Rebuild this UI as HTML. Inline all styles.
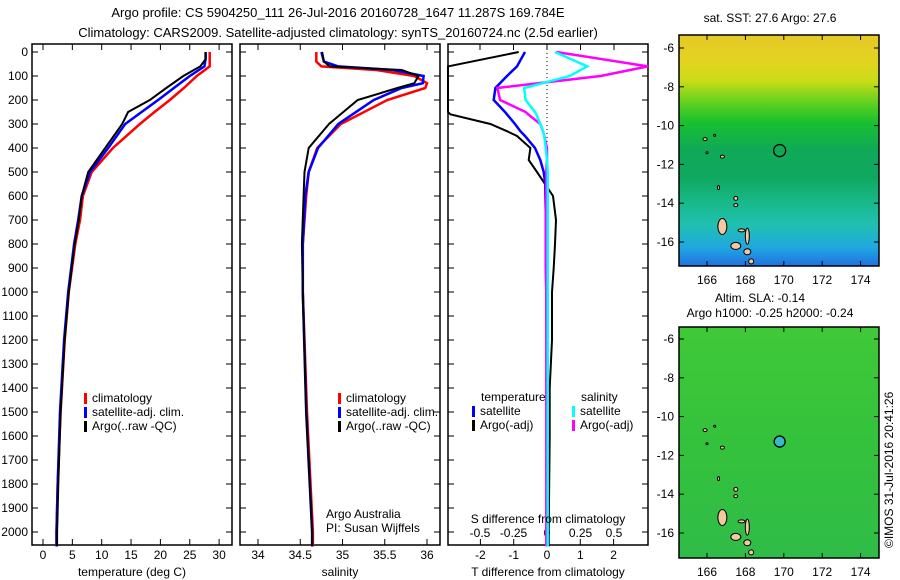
<!DOCTYPE html>
<html><head><meta charset="utf-8">
<style>
body{margin:0;background:#fff;}
svg{display:block;font-family:"Liberation Sans",sans-serif;}
</style></head>
<body>
<svg id="c" width="900" height="580" viewBox="0 0 900 580" xmlns="http://www.w3.org/2000/svg">
<defs>
<linearGradient id="sstg" x1="0" y1="0" x2="0" y2="1">
<stop offset="0" stop-color="#e6c828"/><stop offset="0.12" stop-color="#e2d420"/><stop offset="0.2" stop-color="#c8dc18"/>
<stop offset="0.3" stop-color="#5ad020"/><stop offset="0.38" stop-color="#18c030"/><stop offset="0.5" stop-color="#10a858"/>
<stop offset="0.62" stop-color="#10a860"/><stop offset="0.72" stop-color="#18b888"/><stop offset="0.82" stop-color="#20c0b0"/>
<stop offset="0.92" stop-color="#20a8e0"/><stop offset="1" stop-color="#2070e0"/>
</linearGradient>
<linearGradient id="slag" x1="0" y1="0" x2="0" y2="1">
<stop offset="0" stop-color="#40c838"/><stop offset="0.5" stop-color="#34c23c"/><stop offset="1" stop-color="#30bc48"/>
</linearGradient>
</defs>
<g font-size="13">
<text x="338" y="17" text-anchor="middle">Argo profile: CS 5904250_111 26-Jul-2016 20160728_1647 11.287S 169.784E</text>
<text x="338" y="37" text-anchor="middle">Climatology: CARS2009. Satellite-adjusted climatology: synTS_20160724.nc (2.5d earlier)</text>
</g>
<g id="plots"></g>
</svg>
<script>
// ---- data ----
const tDepth   = [0,30,60,100,150,200,250,300,400,500,600,700,800,1000,1200,1500,1800,2000,2060];
const tClim    = [28.4,28.4,28.4,26.2,24.0,21.6,19.0,16.5,11.9,8.3,6.8,6.3,5.5,4.4,3.7,3.0,2.5,2.3,2.3];
const tSat     = [27.7,27.7,27.5,25.0,22.3,19.6,16.8,14.0,11.1,8.0,6.6,6.0,5.3,4.3,3.6,2.9,2.5,2.3,2.3];
const tArgo    = [27.7,27.7,26.8,23.9,21.0,18.2,14.5,13.5,10.6,7.7,6.6,6.1,5.4,4.4,3.7,3.0,2.6,2.4,2.4];
const sDepth   = [0,40,60,75,100,130,150,200,300,400,500,600,800,1000,1500,2000,2060];
const sClim    = [34.69,34.69,34.75,35.4,35.85,36.0,35.98,35.53,34.98,34.7,34.6,34.57,34.53,34.53,34.58,34.65,34.65];
const sSat     = [34.75,34.78,34.95,35.6,35.96,35.95,35.7,35.37,34.95,34.71,34.6,34.56,34.53,34.53,34.57,34.64,34.64];
const sArgo    = [34.76,34.78,34.85,35.7,35.9,35.85,35.65,35.18,34.84,34.6,34.55,34.54,34.52,34.53,34.57,34.64,34.64];
const dDepth   = [0,60,100,150,200,250,260,300,330,350,400,450,500,550,600,700,800,900,1000,1200,1400,1600,2000,2060];
const dTSat    = [-0.66,-0.9,-1.2,-1.55,-1.6,-1.26,-1.2,-0.96,-0.8,-0.66,-0.36,-0.2,-0.1,-0.05,-0.05,-0.03,-0.02,-0.03,-0.02,-0.01,0,0,0,0];
const dTArgo   = [-0.85,-3,-3,-3,-3,-3,-2.9,-1.7,-1.2,-0.9,-0.5,-0.55,-0.3,-0.06,0.18,0.27,0.24,0.2,0.15,0.15,0.08,0.08,0.05,0.05];
const dSSat    = [0.06,0.3,0.17,-0.17,-0.16,-0.09,-0.08,-0.05,-0.03,-0.02,-0.01,0,0.005,0.005,0.005,0.005,0.005,0.005,0.005,0.005,0.005,0.005,0.005,0.005];
const dSArgo   = [0.07,0.9,0.4,-0.37,-0.35,-0.16,-0.14,-0.05,-0.03,-0.02,0,0,-0.005,-0.005,-0.01,-0.01,-0.01,-0.01,-0.005,-0.005,-0.005,-0.005,-0.005,-0.005];
const depthTicks = [0,100,200,300,400,500,600,700,800,900,1000,1100,1200,1300,1400,1500,1600,1700,1800,1900,2000];
const tTicks = [0,5,10,15,20,25,30];
const sTicks = [34,34.5,35,35.5,36];
const dtTicks = [-2,-1,0,1,2];
const dsTicks = [-0.5,-0.25,0,0.25,0.5];
const lonTicks = [166,168,170,172,174];
const latTicks = [-6,-8,-10,-12,-14,-16];
const argoLon = 169.784, argoLat = -11.287;

// ---- axes ----
const NS="http://www.w3.org/2000/svg";
const root=document.getElementById('plots');
const yD=d=>52+0.24*d;
const xT=t=>43+5.87*t;
const xS=s=>258+84.5*(s-34);
const xDT=v=>547+33.3*v;
const xDS=v=>547+134*v;
const xLon=l=>707+19.2*(l-166);
const yLat1=a=>48+19.4*(-6-a);
const yLat2=a=>339+19.4*(-6-a);
function mk(tag,attrs,parent){const e=document.createElementNS(NS,tag);for(const k in attrs)e.setAttribute(k,attrs[k]);(parent||root).appendChild(e);return e;}
function txt(s,x,y,attrs,parent){const e=mk('text',Object.assign({x:x,y:y,'font-size':12},attrs||{}),parent);e.textContent=s;return e;}
function line(xs,ys,vals,depths,col,w,g,name){
  const L=Math.min(g.x0,g.x1),R=Math.max(g.x0,g.x1);
  const pts=vals.map((v,i)=>Math.max(L,Math.min(R,xs(v))).toFixed(1)+','+yD(depths[i]).toFixed(1)).join(' ');
  const p=mk('polyline',{points:pts,fill:'none',stroke:col,'stroke-width':w},g.g);
  
  
}
function panel(x0,x1,name){
  const g=mk('g',{});
  
  
  mk('rect',{x:x0,y:44,width:x1-x0,height:501,fill:'#fff',stroke:'#000','stroke-width':1.5},g);
  return {g:g,x0:x0,x1:x1};
}
function xticks(P,ticks,fx,top,labels,ly){
  ticks.forEach(t=>{const x=fx(t);
    mk('line',{x1:x,x2:x,y1:545,y2:539,stroke:'#000'},P.g);
    if(top) mk('line',{x1:x,x2:x,y1:44,y2:50,stroke:'#000'},P.g);
    if(labels){const e=txt(String(t),x,ly,{'text-anchor':'middle'},P.g);
      
      }
  });
}
function dticks(P,labels){
  depthTicks.forEach(d=>{const y=yD(d);
    mk('line',{x1:P.x0,x2:P.x0+6,y1:y,y2:y,stroke:'#000'},P.g);
    mk('line',{x1:P.x1,x2:P.x1-6,y1:y,y2:y,stroke:'#000'},P.g);
    if(labels){const e=txt(String(d),P.x0-4,y+4,{'text-anchor':'end'},P.g);
      
      }
  });
}
function legendEntry(g,x,y,col,label){
  mk('rect',{x:x,y:y-9,width:3,height:11,fill:col},g);
  const e=txt(label,x+8,y,{},g);
  
  
}

// Panel 1 temperature
const P1=panel(32,232,'temperature-panel');
dticks(P1,true);xticks(P1,tTicks,xT,true,true,559);
line(xT,null,tClim,tDepth,'#f00',2.5,P1,'temp-climatology-line');
line(xT,null,tSat,tDepth,'#00f',2.5,P1,'temp-satellite-line');
line(xT,null,tArgo,tDepth,'#000',2,P1,'temp-argo-line');
txt('temperature (deg C)',132,576,{'text-anchor':'middle'},P1.g);
const lg1=mk('g',{},P1.g);
legendEntry(lg1,84,402,'#f00','climatology');legendEntry(lg1,84,416,'#00f','satellite-adj. clim.');legendEntry(lg1,84,430,'#000','Argo(..raw -QC)');

// Panel 2 salinity
const P2=panel(240,440,'salinity-panel');
dticks(P2,false);xticks(P2,sTicks,xS,true,true,559);
line(xS,null,sClim,sDepth,'#f00',2.5,P2,'sal-climatology-line');
line(xS,null,sSat,sDepth,'#00f',2.5,P2,'sal-satellite-line');
line(xS,null,sArgo,sDepth,'#000',2,P2,'sal-argo-line');
txt('salinity',340,576,{'text-anchor':'middle'},P2.g);
const lg2=mk('g',{},P2.g);
legendEntry(lg2,338,402,'#f00','climatology');legendEntry(lg2,338,416,'#00f','satellite-adj. clim.');legendEntry(lg2,338,430,'#000','Argo(..raw -QC)');
txt('Argo Australia',326,518,{},P2.g);
txt('PI: Susan Wijffels',326,532,{},P2.g);

// Panel 3 differences
const P3=panel(448,648,'difference-panel');
dticks(P3,false);xticks(P3,dtTicks,xDT,false,true,559);
dsTicks.forEach(t=>{const x=xDS(t);mk('line',{x1:x,x2:x,y1:44,y2:50,stroke:'#000'},P3.g);
  const e=txt(String(t),x,537,{'text-anchor':'middle'},P3.g);
  
  });
mk('line',{x1:xDT(0),x2:xDT(0),y1:45,y2:544,stroke:'#000','stroke-dasharray':'1,3'},P3.g);
line(xDT,null,dTArgo,dDepth,'#000',2,P3,'tdiff-argo-line');
line(xDT,null,dTSat,dDepth,'#00f',2.5,P3,'tdiff-satellite-line');
line(xDS,null,dSArgo,dDepth,'#f0f',2.5,P3,'sdiff-argo-line');
line(xDS,null,dSSat,dDepth,'#0ff',2.5,P3,'sdiff-satellite-line');
txt('S difference from climatology',548,523,{'text-anchor':'middle'},P3.g);
txt('T difference from climatology',548,576,{'text-anchor':'middle'},P3.g);
const lg3=mk('g',{},P3.g);
txt('temperature',481,401,{},lg3);txt('salinity',581,401,{},lg3);
legendEntry(lg3,472,415,'#00f','satellite');legendEntry(lg3,472,429,'#000','Argo(-adj)');
legendEntry(lg3,572,415,'#0ff','satellite');legendEntry(lg3,572,429,'#f0f','Argo(-adj)');

// Maps
const islands=[[165.9,-10.7,2,1.5],[166.4,-10.5,1,1],[166.0,-11.4,1,1],[166.8,-11.6,2,1.5],[166.6,-13.2,1,2],[167.5,-13.75,2,2],[167.5,-14.1,2,1.5],[166.8,-15.2,4.5,8],[167.5,-16.2,5,3.5],[168.1,-15.7,2,8],[167.8,-15.4,3.5,1.5],[168.1,-16.5,3.5,3],[168.3,-17.0,2.5,2.5]];
function map(top,yLat,fill,name){
  const g=mk('g',{});
  mk('rect',{x:679,y:top,width:200,height:231,fill:fill,stroke:'#000','stroke-width':1.5},g);
  islands.forEach(p=>mk('ellipse',{cx:xLon(p[0]),cy:yLat(p[1]),rx:p[2],ry:p[3],fill:'#f5c8a0',stroke:'#000','stroke-width':1},g));
  lonTicks.forEach(l=>{const x=xLon(l);mk('line',{x1:x,x2:x,y1:top,y2:top+5,stroke:'#000'},g);mk('line',{x1:x,x2:x,y1:top+231,y2:top+226,stroke:'#000'},g);});
  latTicks.forEach(a=>{const y=yLat(a);mk('line',{x1:679,x2:684,y1:y,y2:y,stroke:'#000'},g);mk('line',{x1:879,x2:874,y1:y,y2:y,stroke:'#000'},g);
    txt(String(a),674,y+4,{'text-anchor':'end'},g);});
  return g;
}
const m1=map(35,yLat1,'url(#sstg)','sst-map');
const c1=mk('circle',{cx:xLon(argoLon),cy:yLat1(argoLat),r:6,fill:'none',stroke:'#000','stroke-width':1.3},m1);


txt('sat. SST: 27.6 Argo: 27.6',770,22,{'text-anchor':'middle'},m1);
const m2=map(327,yLat2,'url(#slag)','sla-map');
const c2=mk('circle',{cx:xLon(argoLon),cy:yLat2(argoLat),r:5.5,fill:'#33bbcc',stroke:'#000','stroke-width':1.3},m2);


txt('Altim. SLA: -0.14',760,302,{'text-anchor':'middle'},m2);
txt('Argo h1000: -0.25 h2000: -0.24',770,317,{'text-anchor':'middle'},m2);
lonTicks.forEach(l=>{txt(String(l),xLon(l),576,{'text-anchor':'middle'},m2);});
lonTicks.forEach(l=>{txt(String(l),xLon(l),284,{'text-anchor':'middle'},m1);});
const ts=txt('©IMOS 31-Jul-2016 20:41:26',0,0,{'transform':'translate(893,548) rotate(-90)'});


</script>
</body></html>
